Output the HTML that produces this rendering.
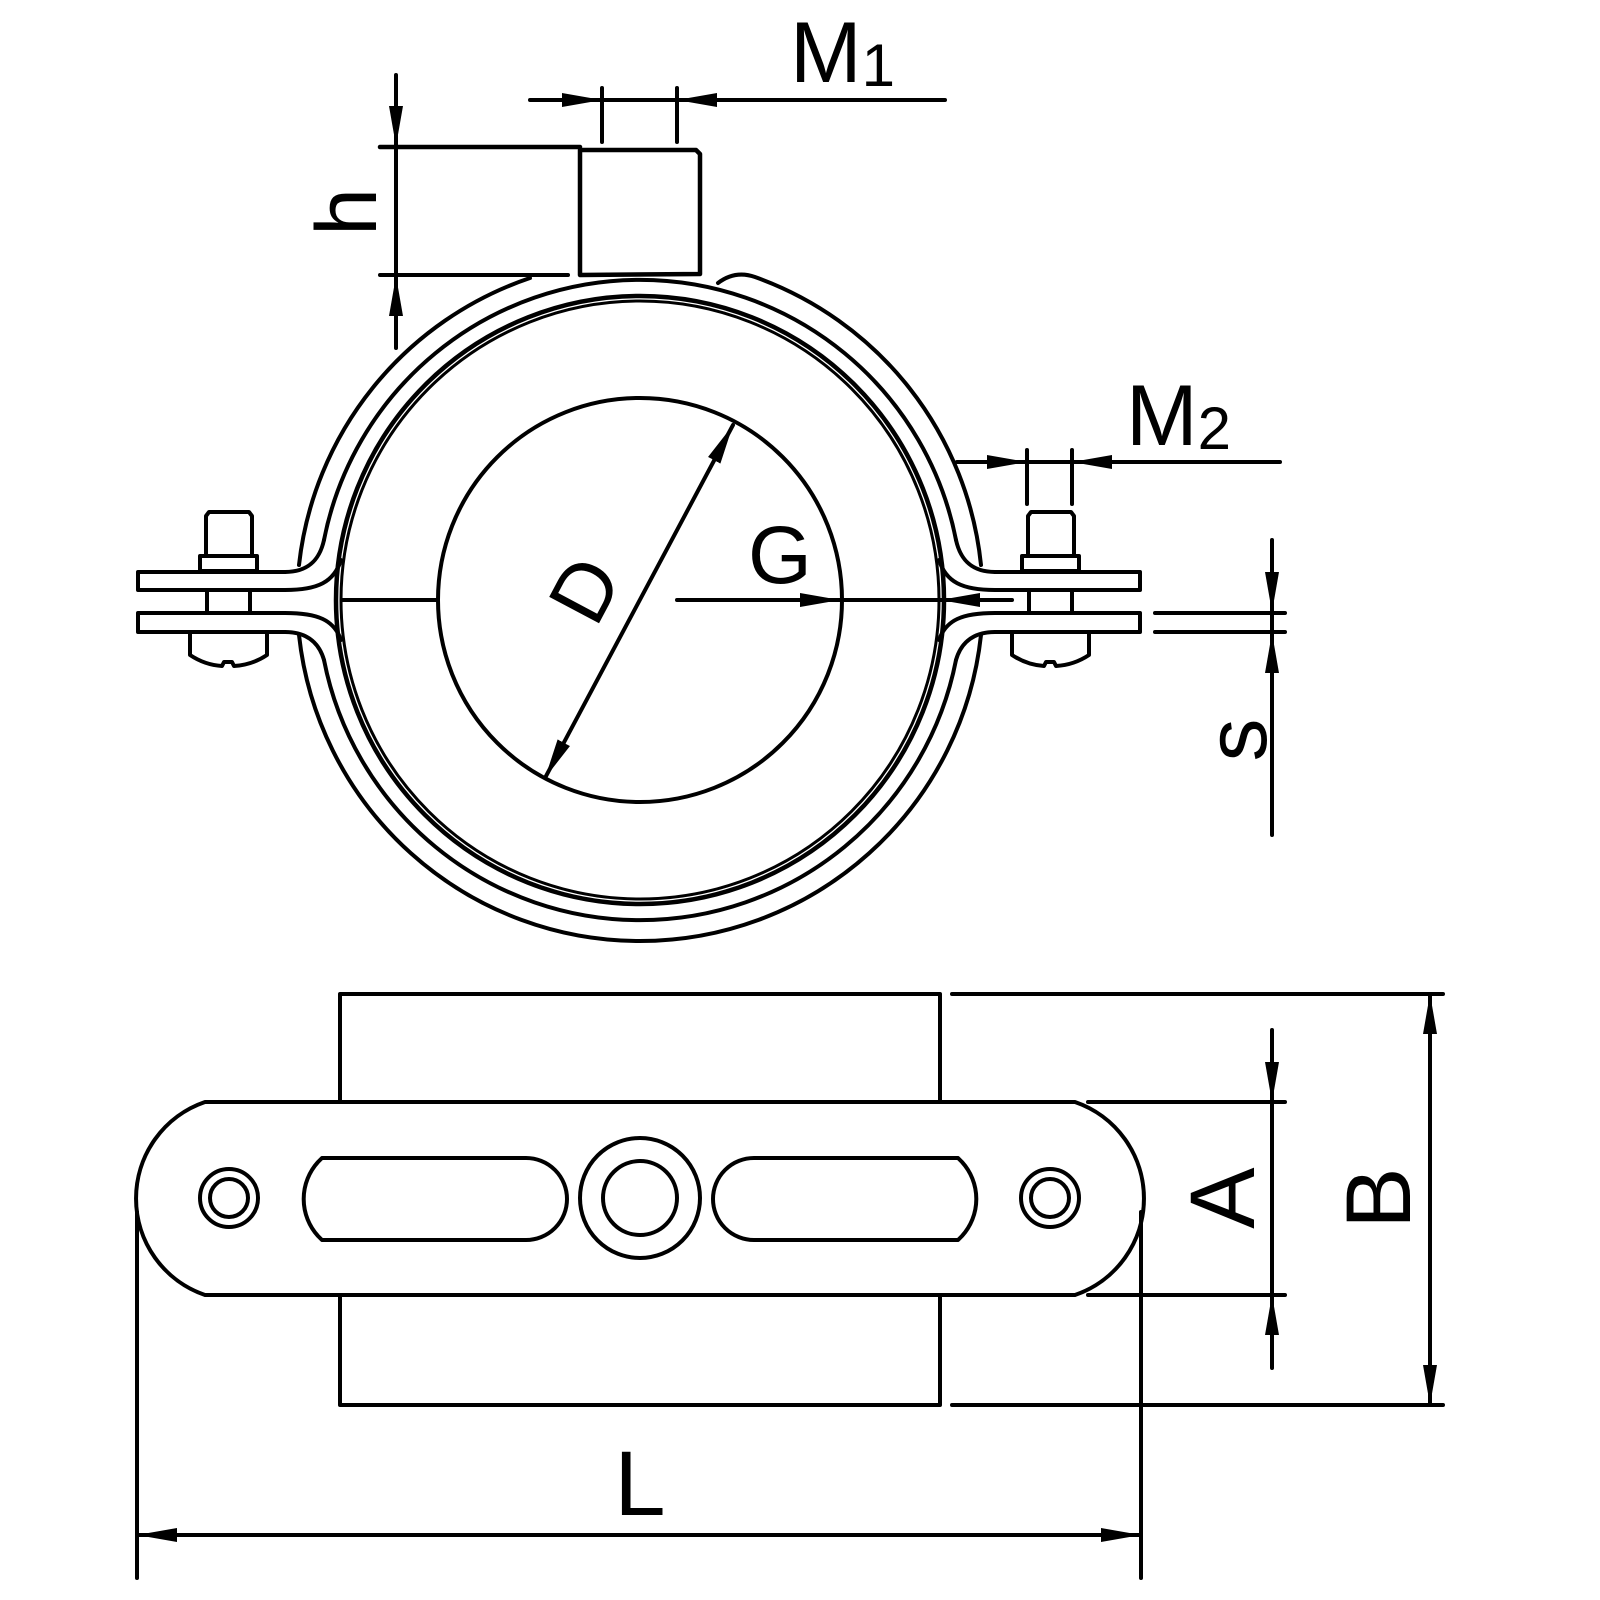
<!DOCTYPE html>
<html><head><meta charset="utf-8"><style>html,body{margin:0;padding:0;background:#fff}svg{display:block}</style></head>
<body>
<svg width="1600" height="1600" viewBox="0 0 1600 1600" xmlns="http://www.w3.org/2000/svg">
<defs>
<marker id="a" markerWidth="40" markerHeight="14" refX="40" refY="7" orient="auto" markerUnits="userSpaceOnUse"><path d="M0,0 L40,7 L0,14 Z" fill="#000"/></marker>
<marker id="as" markerWidth="40" markerHeight="14" refX="40" refY="7" orient="auto-start-reverse" markerUnits="userSpaceOnUse"><path d="M0,0 L40,7 L0,14 Z" fill="#000"/></marker>
</defs>
<g fill="none" stroke="#000" stroke-width="4" stroke-linecap="round" stroke-linejoin="round">
<!-- liner -->
<circle cx="640" cy="600" r="299" stroke-width="3"/>
<circle cx="640" cy="600" r="304" stroke-width="4.5"/>
<!-- inner pipe -->
<circle cx="640" cy="600" r="202"/>
<!-- band inner r=322 -->
<path d="M324,540 A322,322 0 0 1 956,540"/>
<path d="M324,660 A322,322 0 0 0 956,660"/>
<!-- band outer r=343 -->
<path d="M299,565 A343,343 0 0 1 530,278"/>
<path d="M718,283 Q735,270 755,277 A343,343 0 0 1 981,565"/>
<path d="M299,635 A343,343 0 0 0 981,635"/>
<!-- left flanges -->
<path d="M285,572 H138 V590 H285 C318,590 334,582 341,560"/>
<path d="M285,572 C310,572 320,558 324,540"/>
<path d="M285,632 H138 V613 H285 C318,613 334,620 341,640"/>
<path d="M285,632 C310,632 320,646 324,660"/>
<!-- right flanges -->
<path d="M995,572 H1140 V590 H995 C962,590 946,582 939,560"/>
<path d="M995,572 C970,572 960,558 956,540"/>
<path d="M995,632 H1140 V613 H995 C962,613 946,620 939,640"/>
<path d="M995,632 C970,632 960,646 956,660"/>
<!-- left bolt -->
<path d="M206,555 V516 L209,512 H249 L252,516 V555" />
<rect x="200" y="556" width="57" height="15"/>
<line x1="207" y1="591" x2="207" y2="612"/><line x1="250" y1="591" x2="250" y2="612"/>
<path d="M190,633 V655 Q205,665 222,666 L224,662 H232 L234,666 Q252,665 267,655 V633"/>
<!-- right bolt -->
<path d="M1028,555 V516 L1031,512 H1071 L1074,516 V555" />
<rect x="1022" y="556" width="57" height="15"/>
<line x1="1029" y1="591" x2="1029" y2="612"/><line x1="1072" y1="591" x2="1072" y2="612"/>
<path d="M1012,633 V655 Q1027,665 1044,666 L1046,662 H1054 L1056,666 Q1074,665 1089,655 V633"/>
<!-- top nut -->
<path d="M580,275 V150 H696 L700,154 V274 Z" stroke-width="4.5"/>
<line x1="380" y1="147" x2="580" y2="147" stroke-width="4.5"/>
<line x1="380" y1="275" x2="568" y2="275"/>
<!-- h dim -->
<line x1="396" y1="75" x2="396" y2="146" marker-end="url(#a)"/>
<line x1="396" y1="348" x2="396" y2="276" marker-end="url(#a)"/>
<line x1="396" y1="146" x2="396" y2="276"/>
<!-- M1 -->
<line x1="602" y1="88" x2="602" y2="142"/><line x1="677" y1="88" x2="677" y2="142"/>
<line x1="530" y1="100" x2="602" y2="100" marker-end="url(#a)"/>
<line x1="945" y1="100" x2="677" y2="100" marker-end="url(#a)"/>
<line x1="602" y1="100" x2="677" y2="100"/>
<!-- M2 -->
<line x1="1027" y1="450" x2="1027" y2="504"/><line x1="1072" y1="450" x2="1072" y2="504"/>
<line x1="957" y1="462" x2="1027" y2="462" marker-end="url(#a)"/>
<line x1="1280" y1="462" x2="1072" y2="462" marker-end="url(#a)"/>
<line x1="1027" y1="462" x2="1072" y2="462"/>
<!-- center line and G -->
<line x1="342" y1="600" x2="437" y2="600"/>
<line x1="677" y1="600" x2="840" y2="600" marker-end="url(#a)"/>
<line x1="840" y1="600" x2="940" y2="600"/>
<line x1="1012" y1="600" x2="940" y2="600" marker-end="url(#a)"/>
<!-- D -->
<line x1="545" y1="778" x2="733" y2="425" marker-start="url(#as)" marker-end="url(#a)"/>
<!-- s dim -->
<line x1="1155" y1="613" x2="1285" y2="613"/><line x1="1155" y1="632" x2="1285" y2="632"/>
<line x1="1272" y1="540" x2="1272" y2="612" marker-end="url(#a)"/>
<line x1="1272" y1="835" x2="1272" y2="633" marker-end="url(#a)"/>
<line x1="1272" y1="612" x2="1272" y2="633"/>
<!-- bottom view -->
<path d="M340,1101 V994 H940 V1101"/>
<path d="M340,1296 V1405 H940 V1296"/>
<path d="M205,1102 H1075 A102,102 0 0 1 1075,1295 H205 A102,102 0 0 1 205,1102 Z"/>
<circle cx="229" cy="1198" r="29"/><circle cx="229" cy="1198" r="19"/>
<circle cx="1050" cy="1198" r="29"/><circle cx="1050" cy="1198" r="19"/>
<circle cx="640" cy="1198" r="60"/><circle cx="640" cy="1198" r="37"/>
<path d="M322,1158 H526 A41,41 0 0 1 526,1240 H322 L318,1236 A55,55 0 0 1 318,1162 Z"/>
<path d="M958,1158 H754 A41,41 0 0 0 754,1240 H958 L962,1236 A55,55 0 0 0 962,1162 Z"/>
<!-- A/B dims -->
<line x1="952" y1="994" x2="1443" y2="994"/><line x1="952" y1="1405" x2="1443" y2="1405"/>
<line x1="1430" y1="1200" x2="1430" y2="994" marker-end="url(#a)"/>
<line x1="1430" y1="1200" x2="1430" y2="1405" marker-end="url(#a)"/>
<line x1="1088" y1="1102" x2="1285" y2="1102"/><line x1="1088" y1="1295" x2="1285" y2="1295"/>
<line x1="1272" y1="1030" x2="1272" y2="1102" marker-end="url(#a)"/>
<line x1="1272" y1="1368" x2="1272" y2="1295" marker-end="url(#a)"/>
<line x1="1272" y1="1102" x2="1272" y2="1295"/>
<!-- L dim -->
<line x1="137" y1="1212" x2="137" y2="1578"/><line x1="1141" y1="1212" x2="1141" y2="1578"/>
<line x1="640" y1="1535" x2="137" y2="1535" marker-end="url(#a)"/>
<line x1="640" y1="1535" x2="1141" y2="1535" marker-end="url(#a)"/>
</g>
<g font-family="'Liberation Sans', sans-serif" fill="#000">
<text x="790" y="82" font-size="86">M<tspan font-size="60" dy="4">1</tspan></text>
<text x="1126" y="445" font-size="86">M<tspan font-size="60" dy="4">2</tspan></text>
<text x="748" y="583" font-size="82">G</text>
<text transform="translate(585,590) rotate(-62)" font-size="82" text-anchor="middle" dy="28">D</text>
<text transform="translate(376,212) rotate(-90)" font-size="86" text-anchor="middle">h</text>
<text transform="translate(1266,740) rotate(-90)" font-size="86" text-anchor="middle">s</text>
<text transform="translate(1254,1198) rotate(-90)" font-size="92" text-anchor="middle">A</text>
<text transform="translate(1410,1198) rotate(-90)" font-size="92" text-anchor="middle">B</text>
<text x="640" y="1515" font-size="92" text-anchor="middle">L</text>
</g>
</svg>
</body></html>
